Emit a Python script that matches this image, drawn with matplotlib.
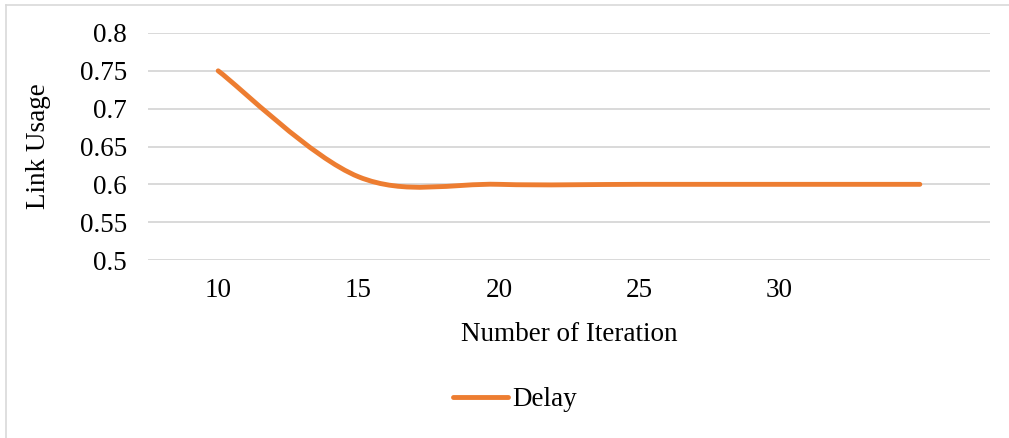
import numpy as np
import matplotlib
matplotlib.use("Agg")
import matplotlib.pyplot as plt
from matplotlib.path import Path
from matplotlib.patches import PathPatch
from matplotlib.lines import Line2D

plt.rcParams['font.family'] = ['Liberation Serif', 'DejaVu Serif']

iterations = ["10", "15", "20", "25", "30", ""]
delay = [0.75, 0.61, 0.60, 0.60, 0.60, 0.60]
y_ticks = [0.5, 0.55, 0.6, 0.65, 0.7, 0.75, 0.8]
y_tick_labels = ["0.5", "0.55", "0.6", "0.65", "0.7", "0.75", "0.8"]

line_color = "#ED7D31"
grid_color = "#D9D9D9"
fs = 19.5
lw = 3.5

fig = plt.figure(figsize=(10.09, 4.38), dpi=100)
ax = fig.add_axes([148 / 1009, 1 - 260 / 438, 842 / 1009, 227 / 438])

# smoothed line, built as cubic bezier segments (catmull-rom style tangents)
x = np.arange(len(delay), dtype=float)
y = np.array(delay)
verts = [(x[0], y[0])]
codes = [Path.MOVETO]
for i in range(len(x) - 1):
    i0 = max(i - 1, 0)
    i3 = min(i + 2, len(x) - 1)
    c1 = (x[i] + (x[i + 1] - x[i0]) / 6, y[i] + (y[i + 1] - y[i0]) / 6)
    c2 = (x[i + 1] - (x[i3] - x[i]) / 6, y[i + 1] - (y[i3] - y[i]) / 6)
    verts += [c1, c2, (x[i + 1], y[i + 1])]
    codes += [Path.CURVE4] * 3
patch = PathPatch(Path(verts, codes), facecolor="none", edgecolor=line_color,
                  linewidth=lw, capstyle="round", joinstyle="round", zorder=3)
ax.add_patch(patch)

ax.set_xlim(-0.5, len(delay) - 0.5)
ax.set_ylim(0.5, 0.8)
ax.set_xticks(x)
ax.set_xticklabels(iterations, fontsize=fs)
ax.set_yticks(y_ticks)
ax.set_yticklabels(y_tick_labels, fontsize=fs)
ax.tick_params(axis="x", length=0, pad=13)
ax.tick_params(axis="y", length=0, pad=15)
for s in ax.spines.values():
    s.set_visible(False)
ax.grid(axis="y", color=grid_color, linewidth=1.4)
ax.set_axisbelow(True)

ax.set_xlabel("Number of Iteration", fontsize=fs, labelpad=14)
ax.set_ylabel("Link Usage", fontsize=fs, labelpad=21)

# legend below the plot
leg_handle = Line2D([], [], color=line_color, linewidth=lw, solid_capstyle="round")
fig.legend([leg_handle], ["Delay"], loc="center", bbox_to_anchor=(515 / 1009, 1 - 400 / 438),
           frameon=False, fontsize=fs, handlelength=2.05, handletextpad=0.15)

# chart frame
fig.add_artist(Line2D([6 / 1009, 6 / 1009], [0, 1 - 5 / 438], transform=fig.transFigure,
                      color="#D9D9D9", linewidth=1.2))
fig.add_artist(Line2D([6 / 1009, 1], [1 - 5 / 438, 1 - 5 / 438], transform=fig.transFigure,
                      color="#D9D9D9", linewidth=1.2))

fig.savefig("out.png", dpi=100)
